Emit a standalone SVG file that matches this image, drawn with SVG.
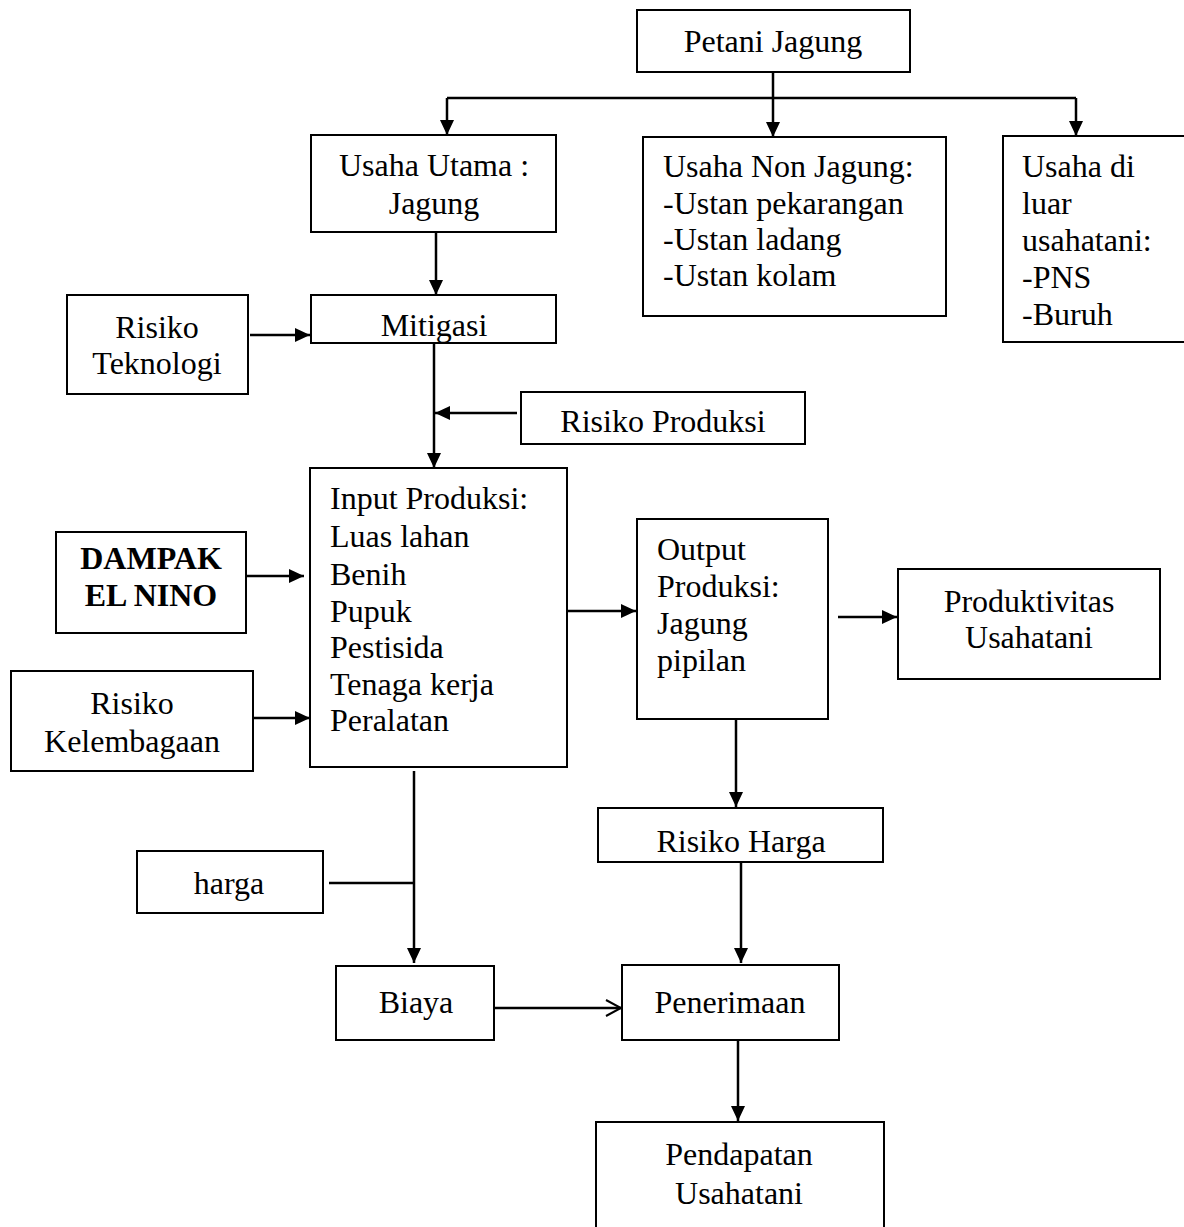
<svg xmlns="http://www.w3.org/2000/svg" width="1184" height="1227" viewBox="0 0 1184 1227">
<style>
.box{fill:#fff;stroke:#000;stroke-width:2}
.t{font-family:"Liberation Serif","Times New Roman",serif;font-size:32px;fill:#000}
.c{text-anchor:middle}
.b{font-weight:bold}
.ln{fill:none;stroke:#000;stroke-width:2.5}
</style>
<defs>
<marker id="ah" markerUnits="userSpaceOnUse" markerWidth="16" markerHeight="14" refX="15" refY="7" orient="auto"><path d="M0,0 L15,7 L0,14 z" fill="#000"/></marker>
<marker id="oa" markerUnits="userSpaceOnUse" markerWidth="18" markerHeight="18" refX="16" refY="9" orient="auto"><path d="M1,1 L16,9 L1,17" fill="none" stroke="#000" stroke-width="2"/></marker>
</defs>
<rect width="1184" height="1227" fill="#fff"/>
<g id="connectors">
<path class="ln" d="M773,72 V98"/>
<path class="ln" d="M447,98 H1076"/>
<path class="ln" d="M447,98 V135" marker-end="url(#ah)"/>
<path class="ln" d="M773,98 V137" marker-end="url(#ah)"/>
<path class="ln" d="M1076,98 V136" marker-end="url(#ah)"/>
<path class="ln" d="M436,232 V295" marker-end="url(#ah)"/>
<path class="ln" d="M250,335 H310" marker-end="url(#ah)"/>
<path class="ln" d="M434,343 V468" marker-end="url(#ah)"/>
<path class="ln" d="M517,413 H435" marker-end="url(#ah)"/>
<path class="ln" d="M246,576 H304" marker-end="url(#ah)"/>
<path class="ln" d="M253,718 H310" marker-end="url(#ah)"/>
<path class="ln" d="M567,611 H636" marker-end="url(#ah)"/>
<path class="ln" d="M838,617 H897" marker-end="url(#ah)"/>
<path class="ln" d="M736,719 V807" marker-end="url(#ah)"/>
<path class="ln" d="M414,771 V963" marker-end="url(#ah)"/>
<path class="ln" d="M329,883 H414"/>
<path class="ln" d="M741,862 V963" marker-end="url(#ah)"/>
<path class="ln" d="M494,1008 H621" marker-end="url(#oa)"/>
<path class="ln" d="M738,1040 V1121" marker-end="url(#ah)"/>
</g>
<g id="petani"><rect class="box" x="637" y="10" width="273" height="62"/><text class="t c" x="773" y="52">Petani Jagung</text></g>
<g id="usaha-utama"><rect class="box" x="311" y="135" width="245" height="97"/><text class="t c" x="434" y="176">Usaha Utama :</text><text class="t c" x="434" y="214">Jagung</text></g>
<g id="usaha-non"><rect class="box" x="643" y="137" width="303" height="179"/><text class="t" x="663" y="177">Usaha Non Jagung:</text><text class="t" x="663" y="214">-Ustan pekarangan</text><text class="t" x="663" y="250">-Ustan ladang</text><text class="t" x="663" y="286">-Ustan kolam</text></g>
<g id="usaha-luar"><rect class="box" x="1003" y="136" width="190" height="206"/><text class="t" x="1022" y="177">Usaha di</text><text class="t" x="1022" y="214">luar</text><text class="t" x="1022" y="251">usahatani:</text><text class="t" x="1022" y="288">-PNS</text><text class="t" x="1022" y="325">-Buruh</text></g>
<g id="mitigasi"><rect class="box" x="311" y="295" width="245" height="48"/><text class="t c" x="434" y="336">Mitigasi</text></g>
<g id="risiko-teknologi"><rect class="box" x="67" y="295" width="181" height="99"/><text class="t c" x="157" y="338">Risiko</text><text class="t c" x="157" y="374">Teknologi</text></g>
<g id="risiko-produksi"><rect class="box" x="521" y="392" width="284" height="52"/><text class="t c" x="663" y="432">Risiko Produksi</text></g>
<g id="input"><rect class="box" x="310" y="468" width="257" height="299"/><text class="t" x="330" y="509">Input Produksi:</text><text class="t" x="330" y="547">Luas lahan</text><text class="t" x="330" y="585">Benih</text><text class="t" x="330" y="622">Pupuk</text><text class="t" x="330" y="658">Pestisida</text><text class="t" x="330" y="695">Tenaga kerja</text><text class="t" x="330" y="731">Peralatan</text></g>
<g id="elnino"><rect class="box" x="56" y="532" width="190" height="101"/><text class="t c b" x="151" y="569">DAMPAK</text><text class="t c b" x="151" y="606">EL NINO</text></g>
<g id="kelembagaan"><rect class="box" x="11" y="671" width="242" height="100"/><text class="t c" x="132" y="714">Risiko</text><text class="t c" x="132" y="752">Kelembagaan</text></g>
<g id="output"><rect class="box" x="637" y="519" width="191" height="200"/><text class="t" x="657" y="560">Output</text><text class="t" x="657" y="597">Produksi:</text><text class="t" x="657" y="634">Jagung</text><text class="t" x="657" y="671">pipilan</text></g>
<g id="produktivitas"><rect class="box" x="898" y="569" width="262" height="110"/><text class="t c" x="1029" y="612">Produktivitas</text><text class="t c" x="1029" y="648">Usahatani</text></g>
<g id="risiko-harga"><rect class="box" x="598" y="808" width="285" height="54"/><text class="t c" x="741" y="852">Risiko Harga</text></g>
<g id="harga"><rect class="box" x="137" y="851" width="186" height="62"/><text class="t c" x="229" y="894">harga</text></g>
<g id="biaya"><rect class="box" x="336" y="966" width="158" height="74"/><text class="t c" x="416" y="1013">Biaya</text></g>
<g id="penerimaan"><rect class="box" x="622" y="965" width="217" height="75"/><text class="t c" x="730" y="1013">Penerimaan</text></g>
<g id="pendapatan"><rect class="box" x="596" y="1122" width="288" height="115"/><text class="t c" x="739" y="1165">Pendapatan</text><text class="t c" x="739" y="1204">Usahatani</text></g>
</svg>
